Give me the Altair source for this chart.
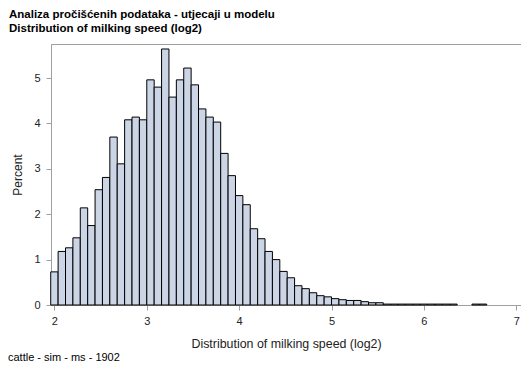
import altair as alt
import pandas as pd

# Histogram bin midpoints (log2 milking speed) and percent per bin
midpoints = [2.00, 2.08, 2.16, 2.24, 2.32, 2.40, 2.48, 2.56, 2.64, 2.72,
             2.80, 2.88, 2.96, 3.04, 3.12, 3.20, 3.28, 3.36, 3.44, 3.52,
             3.60, 3.68, 3.76, 3.84, 3.92, 4.00, 4.08, 4.16, 4.24, 4.32,
             4.40, 4.48, 4.56, 4.64, 4.72, 4.80, 4.88, 4.96, 5.04, 5.12,
             5.20, 5.28, 5.36, 5.44, 5.52, 5.60, 5.68, 5.76, 5.84, 5.92,
             6.00, 6.08, 6.16, 6.24, 6.32, 6.40, 6.48, 6.56, 6.64]
percents = [0.73, 1.18, 1.26, 1.48, 2.14, 1.75, 2.54, 2.81, 3.70, 3.11,
            4.08, 4.14, 4.08, 4.96, 4.80, 5.64, 4.58, 4.96, 5.22, 4.85,
            4.32, 4.14, 4.03, 3.34, 2.85, 2.41, 2.21, 1.68, 1.46, 1.18,
            1.00, 0.74, 0.60, 0.425, 0.36, 0.27, 0.205, 0.18, 0.14, 0.117,
            0.10, 0.10, 0.073, 0.05, 0.05, 0.02, 0.02, 0.02, 0.02, 0.02,
            0.02, 0.02, 0.02, 0.02, 0.02, 0.0, 0.0, 0.02, 0.02]
bin_width = 0.08

x_ticks = [2, 3, 4, 5, 6, 7]
y_ticks = [0, 1, 2, 3, 4, 5]
title_lines = ["Analiza pročišćenih podataka - utjecaji u modelu",
               "Distribution of milking speed (log2)"]
x_title = "Distribution of milking speed (log2)"
y_title = "Percent"
footnote = "cattle - sim - ms - 1902"

df = pd.DataFrame({"mid": midpoints, "pct": percents})
df = df[df["pct"] > 0].copy()
df["lo"] = df["mid"] - bin_width / 2
df["hi"] = df["mid"] + bin_width / 2
df["base"] = 0.0

FONT = "Liberation Sans"
GRAY = "#a0a0a0"

bars = alt.Chart(df).mark_rect(
    fill="#CBD5E5", stroke="black", strokeWidth=1
).encode(
    x=alt.X("lo:Q",
            scale=alt.Scale(domain=[1.963, 7.051], nice=False, zero=False),
            axis=alt.Axis(values=x_ticks, format="d", title=x_title,
                          grid=False, tickSize=5, labelPadding=5,
                          titlePadding=11, titleFontSize=12.4)),
    x2="hi:Q",
    y=alt.Y("pct:Q",
            scale=alt.Scale(domain=[0, 5.75], nice=False),
            axis=alt.Axis(values=y_ticks, format="d", title=y_title,
                          grid=False, tickSize=5, labelPadding=6,
                          titlePadding=9)),
    y2="base:Q",
)

foot = alt.Chart(pd.DataFrame({"t": [footnote]})).mark_text(
    align="left", baseline="alphabetic", fontSize=11, font=FONT, color="#000"
).encode(
    x=alt.value(-43),
    y=alt.value(317),
    text="t:N",
)

chart = alt.layer(bars, foot).properties(
    width=470,
    height=261,
    autosize=alt.AutoSizeParams(type="none"),
    padding={"left": 43, "top": 36, "right": 0, "bottom": 60},
    title=alt.TitleParams(
        text=title_lines, anchor="start", frame="group", dx=-42,
        fontSize=11.5, fontWeight="bold", font=FONT, color="#000",
        lineHeight=14, offset=10,
    ),
).configure_view(
    stroke=GRAY, strokeWidth=1
).configure_axis(
    domainColor=GRAY, tickColor=GRAY, labelFont=FONT, titleFont=FONT,
    labelFontSize=11, titleFontSize=12, labelColor="#222", titleColor="#222",
    titleFontWeight="normal",
)

chart.save("out.html", embed_options={"renderer": "svg", "actions": False})
